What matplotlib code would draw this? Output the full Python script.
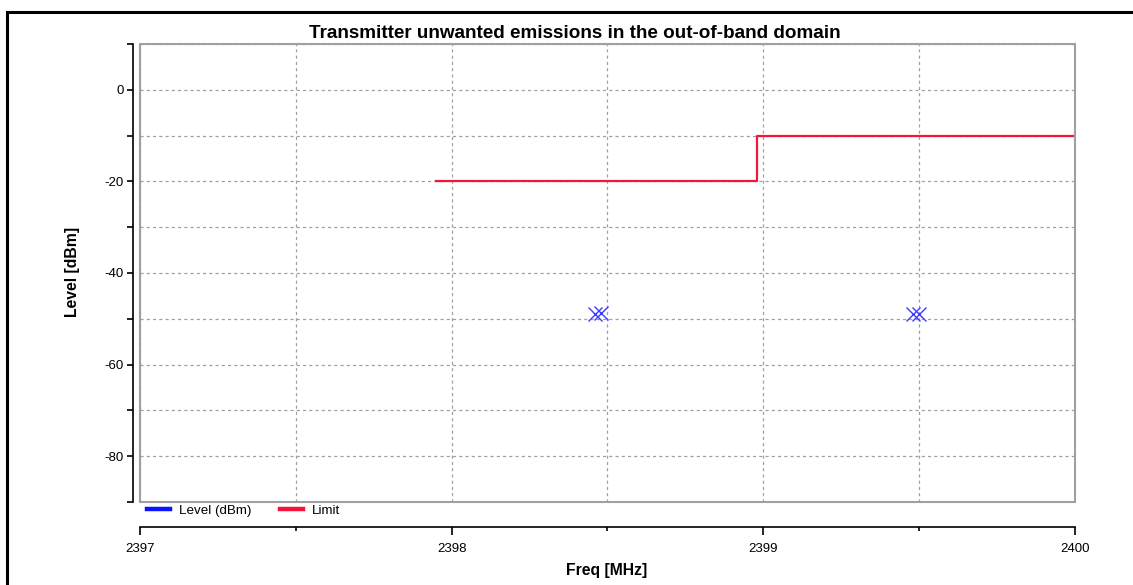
import matplotlib.pyplot as plt
from matplotlib.patches import Rectangle
from matplotlib.lines import Line2D
from matplotlib.ticker import MultipleLocator

plt.rcParams['font.family'] = ['Liberation Sans', 'DejaVu Sans']
plt.rcParams['axes.unicode_minus'] = False

# 数据
limit_freq = [2397.95, 2398.98, 2398.98, 2400.0]
limit_level = [-20, -20, -10, -10]
level_freq = [2398.46, 2398.48, 2399.48, 2399.50]
level_dbm = [-48.9, -48.7, -49.0, -49.0]

title = 'Transmitter unwanted emissions in the out-of-band domain'
x_label = 'Freq [MHz]'
y_label = 'Level [dBm]'

W, H = 1133, 585
fig = plt.figure(figsize=(W / 100, H / 100), dpi=100)
ax = fig.add_axes([140 / W, 1 - 502 / H, (1075 - 140) / W, (502 - 44) / H])

ax.plot(limit_freq, limit_level, color='#f5143c', lw=1.6, zorder=3)
ax.plot(level_freq, level_dbm, ls='none', marker='x', ms=9.5, mew=1.0,
        color='#3c3cff', zorder=4)

ax.set_xlim(2397, 2400)
ax.set_ylim(-90, 10)
ax.xaxis.set_major_locator(MultipleLocator(1))
ax.xaxis.set_minor_locator(MultipleLocator(0.5))
ax.yaxis.set_major_locator(MultipleLocator(20))
ax.yaxis.set_minor_locator(MultipleLocator(10))
ax.grid(True, which='both', color='#a0a0a0', ls=(0, (2.5, 2.5)), lw=0.9)
ax.set_axisbelow(True)

# 坐标轴偏移
for s in ['top', 'right']:
    ax.spines[s].set_visible(False)
ax.spines['left'].set_position(('outward', 4.7))
ax.spines['bottom'].set_position(('outward', 18))
ax.spines['left'].set_linewidth(1.2)
ax.spines['bottom'].set_linewidth(1.2)
ax.tick_params(axis='y', which='both', direction='out', length=4, width=1.2,
               labelsize=9.5, pad=3)
ax.tick_params(axis='x', which='major', direction='out', length=5.5, width=1.2,
               labelsize=9.5, pad=6)
ax.tick_params(axis='x', which='minor', direction='out', length=3, width=1.2)

ax.add_patch(Rectangle((0, 0), 1, 1, transform=ax.transAxes, fill=False,
                       edgecolor='#a0a0a0', lw=1.5, clip_on=False, zorder=5))

fig.text(575 / W, 1 - 33 / H, title, ha='center', va='center',
         fontsize=13.6, fontweight='bold')
fig.text(607 / W, 1 - 570 / H, x_label, ha='center', va='center',
         fontsize=11.3, fontweight='bold')
fig.text(72 / W, 1 - 272 / H, y_label, ha='center', va='center',
         fontsize=11.3, fontweight='bold', rotation=90)

handles = [Line2D([], [], color='#0a14ff', lw=3.2),
           Line2D([], [], color='#f5143c', lw=3.2)]
fig.legend(handles, ['Level (dBm)', 'Limit'], loc='center left',
           bbox_to_anchor=(147 / W, 1 - 511 / H), bbox_transform=fig.transFigure,
           ncol=2, frameon=False, fontsize=9.6, borderpad=0, borderaxespad=0,
           handlelength=1.75, handletextpad=0.65, columnspacing=2.1)

# 外框
fig.patches.append(Rectangle((7 / W, -0.5), 2, 0.5 + 1 - 12 / H,
                             transform=fig.transFigure, fill=False,
                             edgecolor='black', lw=2.2))

fig.savefig('out.png', dpi=100)
